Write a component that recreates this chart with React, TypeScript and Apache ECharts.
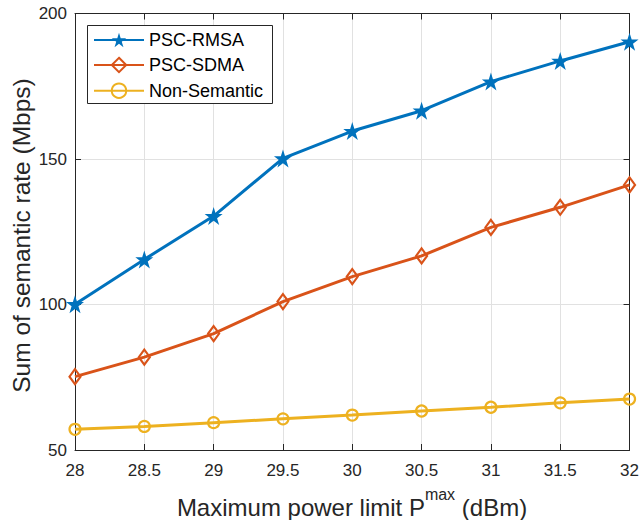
import React, { useEffect, useRef } from "react";
import * as echarts from "echarts";

const xValues = [28, 28.5, 29, 29.5, 30, 30.5, 31, 31.5, 32];
const rmsa = [100.1, 115.5, 130.4, 150.2, 159.6, 166.6, 176.6, 183.7, 190.3];
const sdma = [75.2, 81.9, 90.0, 101.0, 109.6, 116.7, 126.5, 133.4, 141.1];
const nonSemantic = [57.1, 58.1, 59.4, 60.7, 62.0, 63.4, 64.7, 66.2, 67.5];
const seriesNames = ["PSC-RMSA", "PSC-SDMA", "Non-Semantic"];
const yLabel = "Sum of semantic rate (Mbps)";

const FONT = "'Liberation Sans', Arial, Helvetica, sans-serif";
const AXIS = "#262626";
const GRIDC = "#e1e1e1";
const C1 = "#0072BD";
const C2 = "#D95319";
const C3 = "#EDB120";
const STAR =
  "path://M50,0 L61.8,36.2 L100,36.2 L69.1,58.6 L80.9,95.1 L50,72.7 L19.1,95.1 L30.9,58.6 L0,36.2 L38.2,36.2 Z";

function pairs(ys: number[]) {
  return xValues.map((x, i) => [x, ys[i]]);
}

export default function App() {
  const ref = useRef<HTMLDivElement>(null);
  useEffect(() => {
    if (!ref.current) return;
    const chart = echarts.init(ref.current, null, { renderer: "svg" });
    const xCommon = {
      type: "value" as const,
      min: 28,
      max: 32,
      interval: 0.5,
      axisLine: { show: true, lineStyle: { color: AXIS, width: 1 } },
      axisTick: { show: true, inside: true, length: 6, lineStyle: { color: AXIS } },
    };
    const yCommon = {
      type: "value" as const,
      min: 50,
      max: 200,
      interval: 50,
      axisLine: { show: true, lineStyle: { color: AXIS, width: 1 } },
      axisTick: { show: true, inside: true, length: 6, lineStyle: { color: AXIS } },
    };
    chart.setOption({
      animation: false,
      backgroundColor: "#ffffff",
      grid: { left: 75, right: 10, top: 13.5, bottom: 70, containLabel: false },
      xAxis: [
        {
          ...xCommon,
          position: "bottom",
          splitLine: { show: true, lineStyle: { color: GRIDC, width: 1 } },
          axisLabel: { fontSize: 17, color: AXIS, fontFamily: FONT, margin: 12 },
        },
        {
          ...xCommon,
          position: "top",
          splitLine: { show: false },
          axisLabel: { show: false },
        },
      ],
      yAxis: [
        {
          ...yCommon,
          position: "left",
          splitLine: { show: true, lineStyle: { color: GRIDC, width: 1 } },
          axisLabel: { fontSize: 17, color: AXIS, fontFamily: FONT, margin: 8 },
        },
        {
          ...yCommon,
          position: "right",
          splitLine: { show: false },
          axisLabel: { show: false },
        },
      ],
      legend: {
        orient: "vertical",
        left: 93,
        top: 31,
        padding: 0,
        itemWidth: 50,
        itemHeight: 18,
        itemGap: 6.3,
        z: 6,
        textStyle: { fontSize: 18, color: "#000", fontFamily: FONT },
        data: seriesNames,
      },
      graphic: [
        {
          type: "rect",
          z: 5,
          shape: { x: 87.5, y: 25.5, width: 185, height: 78 },
          style: { fill: "#ffffff", stroke: AXIS, lineWidth: 1 },
        },
        {
          type: "text",
          x: 21,
          y: 235.5,
          rotation: Math.PI / 2,
          style: {
            text: yLabel,
            fontSize: 24.5,
            fontFamily: FONT,
            fill: AXIS,
            align: "center",
            verticalAlign: "middle",
          },
        },
        {
          type: "text",
          x: 352,
          y: 503,
          style: {
            text: "{a|Maximum power limit P}{s|max}{a| (dBm)}",
            align: "center",
            verticalAlign: "middle",
            rich: {
              a: {
                fontSize: 24,
                fontFamily: FONT,
                fill: AXIS,
                lineHeight: 32.5,
                verticalAlign: "bottom",
              },
              s: {
                fontSize: 16,
                fontFamily: FONT,
                fill: AXIS,
                lineHeight: 16,
                verticalAlign: "top",
              },
            },
          },
        },
      ],
      series: [
        {
          name: seriesNames[0],
          type: "line",
          data: pairs(rmsa),
          clip: false,
          symbol: STAR,
          symbolSize: 18,
          lineStyle: { color: C1, width: 3 },
          itemStyle: { color: C1 },
          z: 4,
        },
        {
          name: seriesNames[1],
          type: "line",
          data: pairs(sdma),
          clip: false,
          symbol: "diamond",
          symbolSize: [11, 15],
          lineStyle: { color: C2, width: 3 },
          itemStyle: { color: "none", borderColor: C2, borderWidth: 2.2 },
          z: 3,
        },
        {
          name: seriesNames[2],
          type: "line",
          data: pairs(nonSemantic),
          clip: false,
          symbol: "circle",
          symbolSize: 11,
          lineStyle: { color: C3, width: 3 },
          itemStyle: { color: "none", borderColor: C3, borderWidth: 2.2 },
          z: 2,
        },
      ],
    });
    return () => chart.dispose();
  }, []);
  return (
    <div
      ref={ref}
      style={{ position: "absolute", left: 0, top: 0, width: 642, height: 520 }}
    />
  );
}
